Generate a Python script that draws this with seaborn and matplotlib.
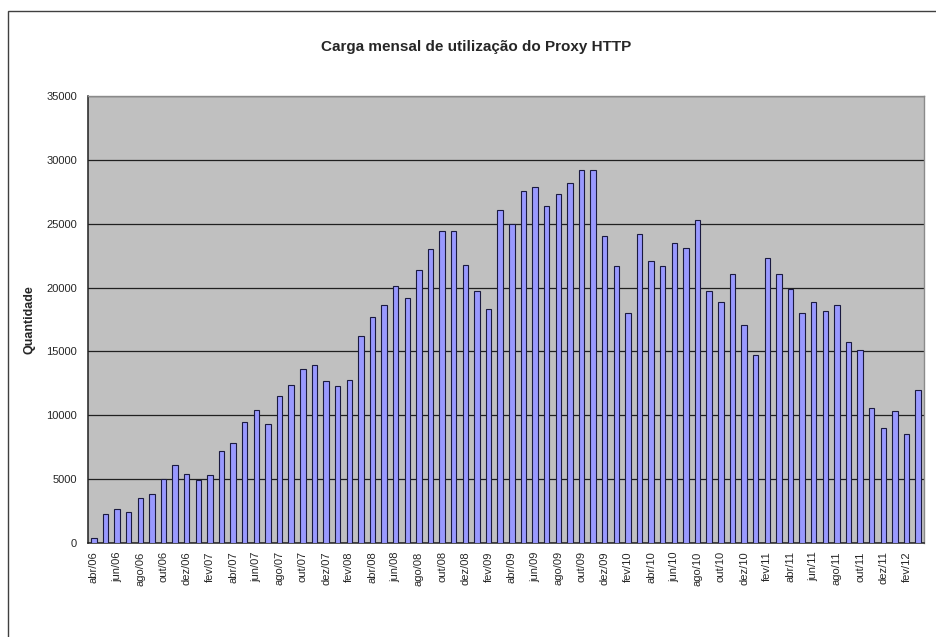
import pandas as pd
import matplotlib
matplotlib.use("Agg")
import matplotlib.pyplot as plt
import seaborn as sns
import numpy as np
from matplotlib.patches import Rectangle

# meses abr/06 .. mar/12
month_names = ["abr", "mai", "jun", "jul", "ago", "set", "out", "nov", "dez", "jan", "fev", "mar"]
years = ["06", "07", "08", "09", "10", "11", "12"]

values = [
    400, 2300, 2700, 2400, 3500, 3800, 5000, 6100, 5400,          # abr-dez 2006
    4900, 5300, 7200, 7800, 9500, 10400, 9300, 11500, 12400,      # jan-set 2007
    13600, 13900, 12700,                                          # out-dez 2007
    12300, 12800, 16200, 17700, 18600, 20100, 19200, 21400, 23000,
    24400, 24400, 21800,                                          # 2008
    19700, 18300, 26100, 25000, 27600, 27900, 26400, 27300, 28200,
    29200, 29200, 24000,                                          # 2009
    21700, 18000, 24200, 22100, 21700, 23500, 23100, 25300, 19700,
    18900, 21100, 17100,                                          # 2010
    14700, 22300, 21100, 19900, 18000, 18900, 18200, 18600, 15700,
    15100, 10600, 9000,                                           # 2011
    10300, 8500, 12000,                                           # jan-mar 2012
]

labels = []
yi = 0
mi = 0
for v in values:
    labels.append(month_names[mi] + "/" + years[yi])
    mi += 1
    if month_names[mi % 12] == "jan":
        yi += 1
    mi = mi % 12

df = pd.DataFrame({"mes": labels, "qtd": values})

sns.set_style("white")
plt.rcParams["font.family"] = ["Liberation Sans", "DejaVu Sans"]

fig = plt.figure(figsize=(9.36, 6.37), dpi=100)
ax = fig.add_axes([88 / 936, 1 - 543 / 637, 836 / 936, 447 / 637])
ax.set_facecolor("#C0C0C0")

sns.barplot(data=df, x="mes", y="qtd", color="#9999FF", width=0.47,
            edgecolor="#1a1a40", linewidth=0.8, saturation=1, ax=ax, zorder=3)

ax.set_ylim(0, 35000)
ax.set_xlim(-0.5, len(values) - 0.5)
ax.set_yticks(np.arange(0, 35001, 5000))
ax.set_yticklabels([str(v) for v in range(0, 35001, 5000)], fontsize=8)
ax.yaxis.grid(True, color="#202020", linewidth=0.9, zorder=0)
ax.set_axisbelow(True)

pos = np.arange(0, len(values), 2)
ax.set_xticks(pos)
ax.set_xticklabels([labels[i] for i in pos], rotation=90, fontsize=8)
ax.set_xticks(np.arange(-0.5, len(values), 2), minor=True)
ax.tick_params(axis="x", which="major", length=0, pad=6)
ax.tick_params(axis="x", which="minor", length=4, width=0.9, color="#202020", direction="out")
ax.tick_params(axis="y", length=4, width=0.9, color="#202020", direction="out", pad=4)

ax.set_xlabel("")
ax.set_ylabel("Quantidade", fontsize=9, fontweight="bold", labelpad=8)

for side in ["left", "bottom"]:
    ax.spines[side].set_color("#202020")
    ax.spines[side].set_linewidth(1.1)
for side in ["top", "right"]:
    ax.spines[side].set_color("#8a8a8a")
    ax.spines[side].set_linewidth(1.0)

fig.text(476 / 936, 1 - 47 / 637, "Carga mensal de utilização do Proxy HTTP",
         ha="center", va="center", fontsize=11, fontweight="bold")

fig.patches.append(Rectangle((8 / 936, -0.1), 1.2, 1 - 11 / 637 + 0.1,
                             transform=fig.transFigure, fill=False,
                             edgecolor="#404040", linewidth=1.0))

fig.savefig("out.png", dpi=100)
